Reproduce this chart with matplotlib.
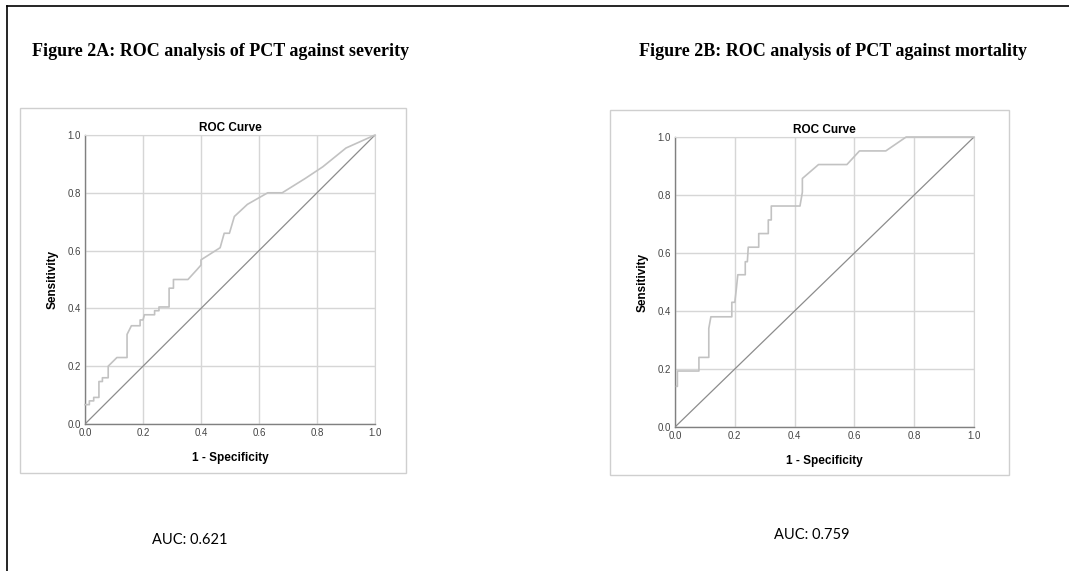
import matplotlib
matplotlib.use("Agg")
import matplotlib.pyplot as plt
from matplotlib.patches import Rectangle
from matplotlib.lines import Line2D

# Данные (ступенчатые ROC-кривые)
fpr_severity = [0.000, 0.015, 0.015, 0.030, 0.030, 0.048, 0.048, 0.060, 0.060, 0.080,
                0.080, 0.110, 0.145, 0.145, 0.160, 0.190, 0.190, 0.200, 0.205, 0.240,
                0.240, 0.255, 0.255, 0.290, 0.290, 0.305, 0.305, 0.355, 0.385, 0.400,
                0.400, 0.466, 0.480, 0.498, 0.515, 0.560, 0.630, 0.680, 0.760, 0.820,
                0.900, 1.000]
tpr_severity = [0.067, 0.067, 0.080, 0.080, 0.092, 0.092, 0.147, 0.147, 0.160, 0.160,
                0.200, 0.230, 0.230, 0.310, 0.340, 0.340, 0.360, 0.360, 0.378, 0.378,
                0.392, 0.392, 0.405, 0.405, 0.470, 0.470, 0.500, 0.500, 0.533, 0.550,
                0.568, 0.610, 0.660, 0.660, 0.718, 0.760, 0.800, 0.800, 0.850, 0.890,
                0.955, 1.000]

fpr_mortality = [0.005, 0.008, 0.008, 0.080, 0.080, 0.113, 0.113, 0.120, 0.190, 0.190,
                 0.200, 0.205, 0.210, 0.235, 0.235, 0.242, 0.245, 0.280, 0.280, 0.312,
                 0.312, 0.322, 0.322, 0.418, 0.426, 0.426, 0.480, 0.575, 0.617, 0.705,
                 0.773, 1.000]
tpr_mortality = [0.140, 0.140, 0.193, 0.193, 0.240, 0.240, 0.340, 0.380, 0.380, 0.430,
                 0.430, 0.475, 0.525, 0.525, 0.570, 0.570, 0.620, 0.620, 0.667, 0.667,
                 0.714, 0.714, 0.762, 0.762, 0.810, 0.857, 0.905, 0.905, 0.952, 0.952,
                 1.000, 1.000]

titles = ["Figure 2A: ROC analysis of PCT against severity",
          "Figure 2B: ROC analysis of PCT against mortality"]
auc_labels = ["AUC: 0.621", "AUC: 0.759"]
ticks = [0.0, 0.2, 0.4, 0.6, 0.8, 1.0]

W, H = 1069, 571
fig = plt.figure(figsize=(W / 100, H / 100), dpi=100)
fig.patch.set_facecolor("white")


def fx(px):
    return px / W


def fy(py):
    return 1 - py / H


# рамка документа (верх и левый край)
fig.add_artist(Line2D([fx(7), 1.0], [fy(6), fy(6)], color="black", lw=1.2))
fig.add_artist(Line2D([fx(7), fx(7)], [fy(6), 0.0], color="black", lw=1.2))

# рамки вокруг графиков
for (x0, y0, x1, y1) in [(20, 108, 406, 473), (610, 110, 1009, 475)]:
    fig.add_artist(Rectangle((fx(x0), fy(y1)), fx(x1) - fx(x0), fy(y0) - fy(y1),
                             transform=fig.transFigure, fill=False,
                             edgecolor="#cfcfcf", lw=1.0))

fig.text(fx(32), fy(52), titles[0], family="Liberation Serif", weight="bold",
         fontsize=13.0, ha="left", va="center")
fig.text(fx(639), fy(52), titles[1], family="Liberation Serif", weight="bold",
         fontsize=13.0, ha="left", va="center")

fig.text(fx(190), fy(540), auc_labels[0], family="Lato", fontsize=10.5,
         ha="center", va="center")
fig.text(fx(812), fy(535), auc_labels[1], family="Lato", fontsize=10.5,
         ha="center", va="center")


def roc_panel(rect, fpr, tpr):
    x0, y0, x1, y1 = rect
    ax = fig.add_axes([fx(x0), fy(y1), fx(x1) - fx(x0), fy(y0) - fy(y1)])
    ax.set_xlim(0, 1)
    ax.set_ylim(0, 1)
    ax.set_xticks(ticks)
    ax.set_yticks(ticks)
    ax.set_xticklabels([f"{t:.1f}" for t in ticks])
    ax.set_yticklabels([f"{t:.1f}" for t in ticks])
    ax.grid(True, color="#d6d6d6", lw=1.0)
    ax.set_axisbelow(True)
    ax.tick_params(length=0, labelsize=7, labelcolor="#444444", pad=3,
                   labelfontfamily="Liberation Sans")
    for s in ["top", "right"]:
        ax.spines[s].set_color("#d6d6d6")
    for s in ["left", "bottom"]:
        ax.spines[s].set_color("#808080")
        ax.spines[s].set_linewidth(1.0)
    ax.plot([0, 1], [0, 1], color="#8c8c8c", lw=0.9, zorder=3)
    ax.plot(fpr, tpr, color="#c2c2c2", lw=1.2, zorder=4, clip_on=False)
    ax.set_title("ROC Curve", family="Liberation Sans", weight="bold",
                 fontsize=8.5, pad=3)
    ax.set_xlabel("1 - Specificity", family="Liberation Sans", weight="bold",
                  fontsize=8.5, labelpad=10)
    ax.set_ylabel("Sensitivity", family="Liberation Sans", weight="bold",
                  fontsize=8.5, labelpad=6)
    return ax


roc_panel((85, 135, 375, 424), fpr_severity, tpr_severity)
roc_panel((675, 137, 974, 427), fpr_mortality, tpr_mortality)

fig.savefig("out.png", dpi=100)
